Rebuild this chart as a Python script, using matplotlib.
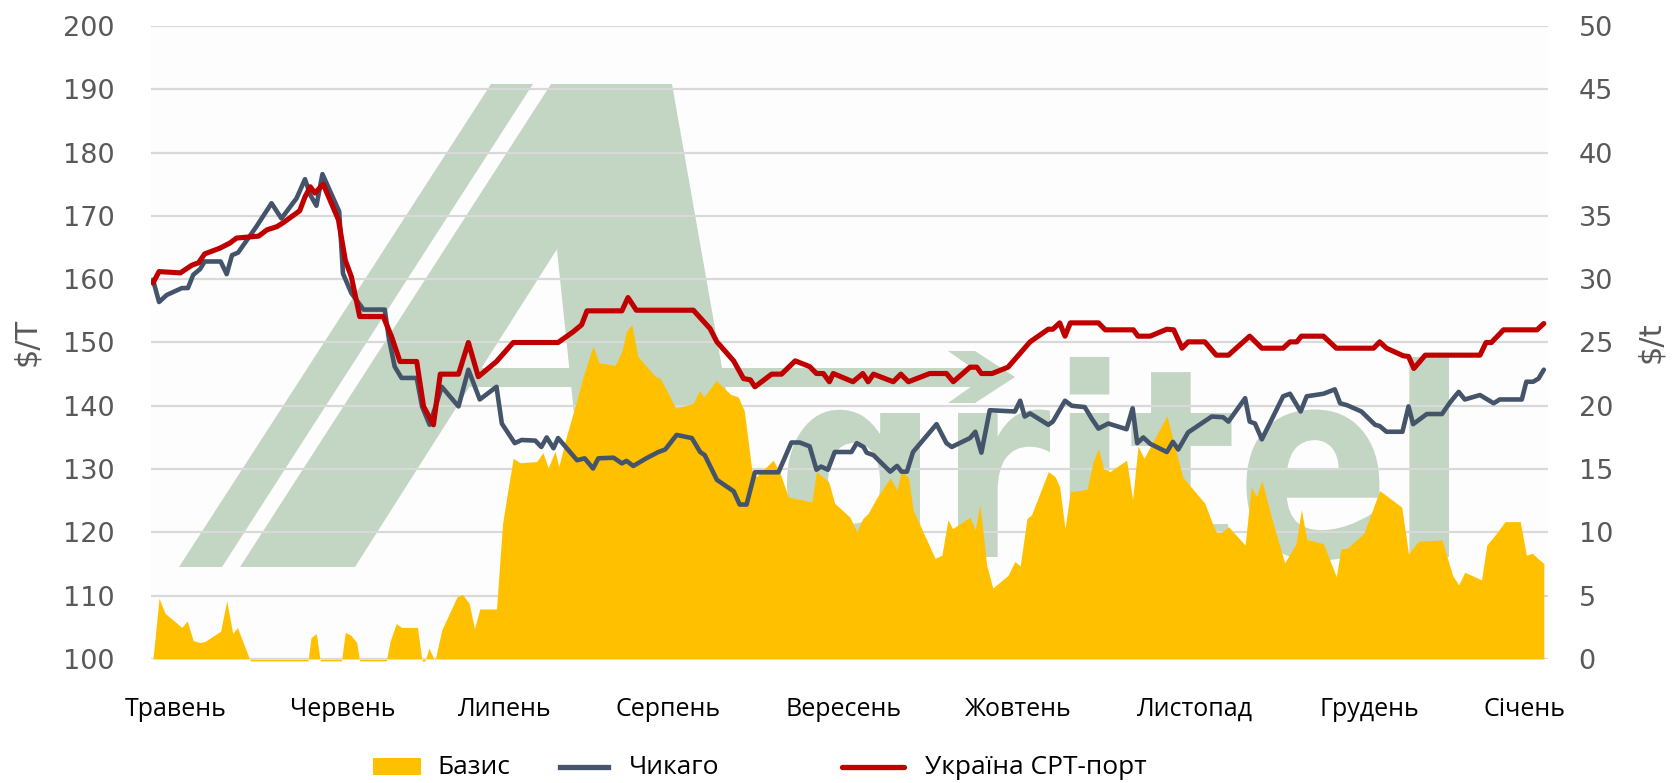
import matplotlib
matplotlib.use("Agg")
import matplotlib.pyplot as plt
from matplotlib.patches import Polygon, PathPatch, Rectangle
from matplotlib.lines import Line2D
from matplotlib.textpath import TextPath
from matplotlib.font_manager import FontProperties
from matplotlib.transforms import Affine2D

# x = trading day counted from the start of May
months = ["Травень", "Червень", "Липень", "Серпень", "Вересень",
          "Жовтень", "Листопад", "Грудень", "Січень"]
month_pos = [3.0, 25.0, 46.3, 67.8, 90.8, 113.9, 137.1, 160.1, 180.5]

# Україна CPT-порт, $/T (left axis)
ukraine = [(0.0, 159.4), (0.8, 161.2), (3.6, 161.0), (5.1, 162.2), (6.0, 162.6), (6.8, 164.0),
           (8.8, 164.9), (10.1, 165.7), (11.0, 166.5), (13.9, 166.8), (15.0, 167.8), (16.3, 168.3),
           (17.1, 168.9), (19.3, 170.8), (20.0, 173.0), (20.7, 174.6), (21.3, 173.6), (22.4, 175.0),
           (24.4, 169.4), (25.3, 163.0), (26.1, 160.4), (27.2, 154.1), (30.3, 154.1), (31.4, 150.9),
           (32.5, 147.0), (34.7, 147.0), (35.6, 139.9), (36.9, 137.0), (37.8, 145.0), (40.2, 145.0),
           (41.5, 150.0), (42.8, 144.6), (45.2, 147.0), (47.4, 150.0), (53.3, 150.0), (55.3, 151.7),
           (56.4, 152.8), (57.1, 155.0), (61.7, 155.0), (62.5, 157.1), (63.6, 155.1), (71.1, 155.1),
           (73.3, 152.2), (74.2, 150.1), (76.4, 147.1), (77.7, 144.3), (78.6, 144.1), (79.2, 143.0),
           (81.4, 145.0), (82.7, 145.0), (84.5, 147.1), (86.4, 146.2), (87.3, 145.1), (88.2, 145.1),
           (89.0, 143.8), (89.5, 145.1), (92.1, 143.8), (93.4, 145.1), (94.1, 143.8), (94.8, 145.0),
           (97.4, 143.8), (98.4, 145.0), (99.4, 143.8), (102.2, 145.1), (104.4, 145.1), (105.3, 143.8),
           (107.5, 146.1), (108.4, 146.1), (109.0, 145.1), (110.4, 145.1), (112.5, 146.1), (115.4, 150.1),
           (117.8, 152.1), (118.4, 152.1), (119.3, 153.1), (120.0, 151.0), (120.7, 153.1), (124.4, 153.1),
           (125.3, 152.0), (129.0, 152.0), (129.6, 151.0), (131.2, 151.0), (133.4, 152.1), (134.3, 152.0),
           (135.4, 149.1), (136.2, 150.1), (138.4, 150.1), (139.9, 148.0), (141.5, 148.0), (144.3, 151.0),
           (145.9, 149.1), (148.7, 149.1), (149.6, 150.1), (150.5, 150.1), (151.1, 151.0), (154.0, 151.0),
           (155.7, 149.1), (160.6, 149.1), (161.4, 150.1), (162.3, 149.1), (164.5, 147.9), (165.2, 147.8),
           (165.9, 145.9), (167.4, 148.0), (174.6, 148.0), (175.4, 150.0), (176.1, 150.0), (177.7, 152.0),
           (182.1, 152.0), (183.0, 153.0)]

# Чикаго, $/T (left axis)
chicago = [(0.0, 159.9), (0.8, 156.4), (1.8, 157.5), (3.8, 158.6), (4.6, 158.6), (5.3, 160.7),
           (6.2, 161.6), (6.8, 162.8), (8.9, 162.8), (9.7, 160.8), (10.4, 163.8), (11.2, 164.2),
           (13.6, 168.3), (15.6, 172.0), (16.9, 169.6), (18.9, 172.8), (20.0, 175.8), (20.7, 173.3),
           (21.5, 171.6), (22.3, 176.6), (24.5, 170.7), (25.0, 160.9), (26.1, 157.8), (27.7, 155.2),
           (30.5, 155.2), (31.0, 150.9), (31.8, 146.2), (32.7, 144.4), (34.7, 144.4), (35.4, 139.9),
           (36.4, 137.0), (38.0, 143.0), (40.2, 139.9), (41.5, 145.7), (43.0, 141.0), (45.2, 143.0),
           (45.9, 137.2), (47.6, 134.1), (48.5, 134.6), (50.3, 134.5), (51.1, 133.5), (51.8, 135.0),
           (52.7, 133.3), (53.3, 134.9), (55.8, 131.4), (56.8, 131.7), (57.9, 130.1), (58.6, 131.7),
           (60.6, 131.8), (61.7, 130.9), (62.3, 131.3), (63.2, 130.5), (64.9, 131.7), (66.5, 132.7),
           (67.4, 133.1), (68.9, 135.4), (70.9, 134.9), (72.0, 132.7), (72.6, 132.2), (74.2, 128.3),
           (76.4, 126.5), (77.2, 124.4), (78.1, 124.4), (79.2, 129.5), (82.3, 129.5), (84.0, 134.2),
           (85.1, 134.2), (86.4, 133.6), (87.3, 129.9), (87.9, 130.4), (88.8, 129.9), (89.7, 132.7),
           (91.9, 132.7), (92.6, 134.1), (93.5, 133.5), (93.9, 132.6), (94.8, 132.2), (97.0, 129.6),
           (97.9, 130.5), (98.5, 129.6), (99.2, 129.6), (100.0, 132.7), (103.1, 137.1), (104.4, 134.1),
           (105.1, 133.5), (107.5, 134.9), (108.2, 135.9), (109.0, 132.6), (110.1, 139.3), (113.4, 139.1),
           (114.1, 140.8), (114.7, 138.3), (115.4, 138.8), (117.8, 137.0), (118.4, 137.5), (120.0, 140.8),
           (120.9, 140.0), (122.6, 139.8), (123.5, 138.0), (124.4, 136.4), (125.7, 137.2), (128.1, 136.3),
           (128.9, 139.6), (129.5, 134.1), (130.3, 135.0), (131.2, 134.0), (133.4, 132.7), (134.2, 134.3),
           (134.9, 133.1), (136.2, 135.8), (137.8, 137.1), (139.3, 138.3), (140.8, 138.2), (141.5, 137.5),
           (143.7, 141.2), (144.3, 137.5), (145.0, 137.2), (145.9, 134.7), (148.7, 141.5), (149.6, 141.9),
           (151.0, 139.1), (151.8, 141.5), (154.0, 141.9), (155.5, 142.6), (156.2, 140.4), (157.1, 140.1),
           (159.0, 139.1), (160.8, 137.0), (161.4, 136.8), (162.3, 135.9), (164.4, 135.9), (165.2, 139.9),
           (165.8, 137.1), (167.6, 138.7), (169.6, 138.7), (170.7, 140.6), (171.8, 142.2), (172.6, 141.0),
           (174.6, 141.7), (176.4, 140.4), (177.2, 141.0), (180.1, 141.0), (180.7, 143.8), (181.6, 143.8),
           (182.3, 144.3), (183.0, 145.7)]

# Базис, $/t (right axis)
basis = [(0.0, 0.0), (0.8, 4.8), (1.6, 3.6), (3.8, 2.5), (4.5, 3.0), (5.3, 1.45), (6.2, 1.3),
         (6.8, 1.37), (8.9, 2.2), (9.7, 4.6), (10.5, 2.0), (11.1, 2.5), (12.7, 0.0), (12.8, -0.15),
         (20.4, -0.15), (20.8, 1.7), (21.5, 2.0), (22.0, -0.15), (24.8, -0.15), (25.3, 2.1),
         (26.0, 1.9), (26.8, 1.3), (27.2, -0.15), (30.7, -0.15), (31.2, 1.4), (32.0, 2.8),
         (32.7, 2.5), (34.8, 2.5), (35.4, -0.15), (35.8, -0.15), (36.3, 0.85), (37.1, -0.15),
         (38.0, 2.3), (40.0, 4.9), (40.7, 5.1), (41.6, 4.4), (42.3, 2.4), (43.0, 3.95), (45.2, 3.95),
         (46.0, 10.7), (46.5, 12.6), (47.4, 15.85), (48.3, 15.5), (50.5, 15.6), (51.3, 16.3),
         (52.0, 15.1), (52.9, 16.4), (53.4, 15.2), (54.4, 17.6), (55.8, 20.5), (56.6, 22.3),
         (57.9, 24.7), (58.7, 23.4), (60.8, 23.2), (61.7, 24.3), (62.3, 25.9), (63.0, 26.4),
         (63.8, 23.9), (66.1, 22.3), (66.7, 22.2), (67.6, 21.2), (68.8, 19.8), (71.1, 20.2),
         (71.9, 21.2), (72.5, 20.7), (74.1, 22.0), (76.0, 20.9), (77.0, 20.7), (77.8, 19.6),
         (78.8, 14.9), (79.4, 14.4), (81.6, 15.7), (82.5, 14.7), (83.6, 12.8), (86.7, 12.4),
         (87.3, 14.8), (88.9, 14.0), (89.7, 12.3), (91.7, 11.2), (92.6, 10.05), (93.4, 11.1),
         (94.1, 11.5), (95.2, 12.7), (97.0, 14.3), (97.9, 13.35), (98.5, 14.9), (99.4, 14.3),
         (100.0, 11.8), (102.9, 7.95), (103.8, 8.2), (104.6, 11.0), (105.2, 10.3), (107.5, 11.2),
         (108.2, 10.2), (108.8, 12.2), (109.7, 7.4), (110.5, 5.6), (112.5, 6.6), (113.4, 7.7),
         (114.1, 7.35), (115.0, 11.1), (115.6, 11.4), (117.8, 14.8), (118.7, 14.4), (119.3, 13.6),
         (120.0, 10.3), (120.7, 13.2), (122.9, 13.4), (123.7, 15.6), (124.4, 16.6), (125.1, 15.0),
         (125.9, 14.8), (128.1, 15.7), (128.9, 12.6), (129.6, 16.8), (130.4, 15.85), (133.4, 19.2),
         (134.3, 17.1), (135.5, 14.35), (138.4, 12.3), (139.3, 10.85), (139.9, 10.0), (140.6, 10.0),
         (141.5, 10.45), (143.7, 9.0), (144.5, 13.6), (145.2, 12.8), (145.9, 14.1), (147.2, 11.1),
         (148.9, 7.6), (150.4, 9.1), (151.1, 11.8), (151.8, 9.45), (154.0, 9.1), (155.7, 6.5),
         (156.3, 8.7), (157.1, 8.75), (159.3, 9.9), (161.4, 13.3), (164.3, 12.0), (165.2, 8.3),
         (166.5, 9.3), (169.6, 9.4), (171.0, 6.6), (171.8, 5.85), (172.6, 6.85), (174.8, 6.25),
         (175.5, 9.0), (176.6, 9.8), (177.9, 10.85), (179.9, 10.85), (180.7, 8.2), (181.5, 8.35),
         (182.2, 7.95), (183.0, 7.55)]

YELLOW = "#FFC000"
NAVY = "#44546A"
RED = "#C00000"
GREY = "#595959"
WM = "#C3D5C3"

fig = plt.figure(figsize=(16.72, 7.83), dpi=100)
rect = [151 / 1672, 1 - 659 / 783, 1397 / 1672, 633 / 783]
ax_b = fig.add_axes(rect, facecolor="#fdfdfd")
ax_p = fig.add_axes(rect, sharex=ax_b, facecolor="none")

# watermark logo (pixel boxes of the picture -> axes fraction)
X0, W, Y0, H = 151, 1397, 659, 633
def fr(x, y):
    return ((x - X0) / W, (Y0 - y) / H)

logo = [
    [(179, 567), (222, 567), (533, 84), (491, 84)],
    [(240, 567), (355, 567), (662, 84), (551, 84)],
    [(600, 84), (672, 84), (757, 567), (590, 567), (557, 250)],
    [(470, 368), (990, 368), (990, 387), (470, 387)],
    [(948, 351), (975, 351), (1015, 377), (975, 403), (948, 403), (985, 377)],
]
for shp in logo:
    ax_b.add_patch(Polygon([fr(*p) for p in shp], closed=True, transform=ax_b.transAxes,
                           fc=WM, ec="none", zorder=0.3))
fp = FontProperties(family="DejaVu Sans", weight="bold")
word = TextPath((0, 0), "gritel", size=1, prop=fp)
xh = TextPath((0, 0), "x", size=1, prop=fp).get_extents().ymax
ext = word.get_extents()
sx = (1449 - 787) / (ext.xmax - ext.xmin)
sy = 144 / xh
tr = (Affine2D().translate(-ext.xmin, 0).scale(sx / W, sy / H)
      .translate((787 - X0) / W, (Y0 - 557) / H) + ax_b.transAxes)
ax_b.add_patch(PathPatch(word, transform=tr, fc=WM, ec="none", zorder=0.3))

# basis area on the right axis
bt, bv = zip(*basis)
ax_b.fill_between(bt, 0, bv, color=YELLOW, lw=0, zorder=2, clip_on=False)

# price lines on the left axis
ct, cv = zip(*chicago)
ut, uv = zip(*ukraine)
ax_p.plot(ct, cv, color=NAVY, lw=3.3, solid_joinstyle="round", solid_capstyle="round", zorder=3)
ax_p.plot(ut, uv, color=RED, lw=3.7, solid_joinstyle="round", solid_capstyle="round", zorder=4)

ax_b.set_xlim(-0.26, 183.55)
ax_b.set_ylim(0, 50)
ax_p.set_ylim(100, 200)

ax_b.set_yticks(range(0, 51, 5))
ax_b.yaxis.tick_right()
ax_b.yaxis.grid(True, color="#d9d9d9", lw=1.6)
ax_b.set_axisbelow(True)
ax_b.tick_params(axis="y", length=0, pad=22, labelsize=19.5, labelcolor=GREY)
ax_b.tick_params(axis="x", length=0, labelbottom=False)

ax_p.set_yticks(range(100, 201, 10))
ax_p.tick_params(axis="y", length=0, pad=26, labelsize=19.5, labelcolor=GREY)
ax_p.set_xticks(month_pos)
ax_p.set_xticklabels(months, family="Open Sans", fontsize=18, color="black")
ax_p.tick_params(axis="x", length=0, pad=27)
for a in (ax_b, ax_p):
    for s in a.spines.values():
        s.set_visible(False)

fig.text(27 / 1672, 1 - 342 / 783, "$/T", rotation=90, ha="center", va="center",
         fontsize=22, color=GREY)
fig.text(1651 / 1672, 1 - 342 / 783, "$/t", rotation=90, ha="center", va="center",
         fontsize=22, color=GREY)

# legend along the bottom
ly = 1 - 767 / 783
fig.patches.append(Rectangle((373 / 1672, 1 - 775 / 783), 48 / 1672, 17 / 783,
                             transform=fig.transFigure, fc=YELLOW, ec="none"))
fig.lines.append(Line2D([560 / 1672, 608 / 1672], [ly, ly], transform=fig.transFigure,
                        color=NAVY, lw=3.8))
fig.lines.append(Line2D([842 / 1672, 904 / 1672], [ly, ly], transform=fig.transFigure,
                        color=RED, lw=3.8, solid_capstyle="round"))
for x, lab in [(437, "Базис"), (629, "Чикаго"), (925, "Україна СРТ-порт")]:
    fig.text(x / 1672, ly, lab, ha="left", va="center", family="Open Sans", fontsize=19)

fig.savefig("out.png", dpi=100)
